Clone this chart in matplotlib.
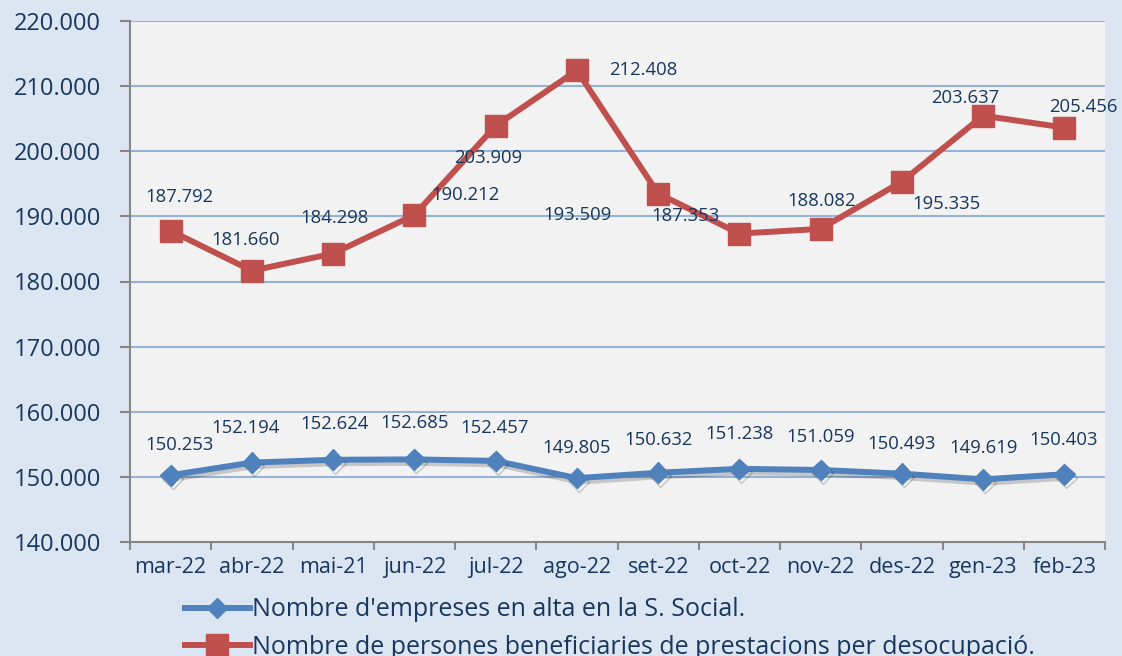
import matplotlib
matplotlib.use("Agg")
import matplotlib.pyplot as plt
import matplotlib.patheffects as pe
from matplotlib.lines import Line2D
import numpy as np

months = ["mar-22", "abr-22", "mai-21", "jun-22", "jul-22", "ago-22",
          "set-22", "oct-22", "nov-22", "des-22", "gen-23", "feb-23"]
empreses = [150.253, 152.194, 152.624, 152.685, 152.457, 149.805,
            150.632, 151.238, 151.059, 150.493, 149.619, 150.403]
persones = [187.792, 181.660, 184.298, 190.212, 203.909, 212.408,
            193.509, 187.353, 188.082, 195.335, 205.456, 203.637]
persones_labels = ["187.792", "181.660", "184.298", "190.212", "203.909", "212.408",
                   "193.509", "187.353", "188.082", "195.335", "203.637", "205.456"]
empreses_labels = ["150.253", "152.194", "152.624", "152.685", "152.457", "149.805",
                   "150.632", "151.238", "151.059", "150.493", "149.619", "150.403"]
yticks = [140, 150, 160, 170, 180, 190, 200, 210, 220]
ytick_labels = ["140.000", "150.000", "160.000", "170.000", "180.000",
                "190.000", "200.000", "210.000", "220.000"]
series_names = ["Nombre d'empreses en alta en la S. Social.",
                "Nombre de persones beneficiaries de prestacions per desocupació."]

FONT = "Open Sans"
TXT = "#17375e"
BLUE = "#4f81bd"
RED = "#c0504d"

fig = plt.figure(figsize=(11.22, 6.56), dpi=100, facecolor="#dce6f2")
ax = fig.add_axes([130/1122, 1-542/656, 975/1122, 521/656])
ax.set_facecolor("#f2f2f2")

x = np.arange(len(months))
ax.set_xlim(-0.5, len(months) - 0.5)
ax.set_ylim(140, 220)

for y in yticks[1:]:
    ax.axhline(y, color="#95b3d7", lw=1.5, zorder=1)

ax.plot(x, empreses, color=BLUE, lw=4.3, marker="D", ms=10.5, zorder=4,
        path_effects=[pe.SimpleLineShadow(offset=(1.5, -2.5), shadow_color="black", alpha=0.18),
                      pe.Normal()])
ax.plot(x, persones, color=RED, lw=4.3, marker="s", ms=16, zorder=5)

red_off = [(9, 34), (-6, 31), (1, 36), (51, 20), (-7, -32), (66, 0),
           (-81, -21), (-54, 18), (1, 28), (45, -22), (-18, 18), (19, 21)]
for i, (lab, off) in enumerate(zip(persones_labels, red_off)):
    ax.annotate(lab, (x[i], persones[i]), xytext=(off[0]*0.72, off[1]*0.72),
                textcoords="offset points", ha="center", va="center",
                fontsize=13.3, color=TXT, family=FONT, zorder=6)

blue_off = [(9, 30), (-6, 35), (1, 36), (0, 36), (-1, 33), (0, 30),
            (0, 33), (0, 35), (0, 33), (0, 30), (0, 31), (-1, 34)]
for i, (lab, off) in enumerate(zip(empreses_labels, blue_off)):
    ax.annotate(lab, (x[i], empreses[i]), xytext=(off[0]*0.72, off[1]*0.72),
                textcoords="offset points", ha="center", va="center",
                fontsize=13.3, color=TXT, family=FONT, zorder=6)

ax.set_yticks(yticks)
ax.set_yticklabels(ytick_labels, fontsize=17, color=TXT, family=FONT)
ax.tick_params(axis="y", length=7, width=1.5, color="#868686", pad=14)

ax.set_xticks(np.arange(-0.5, len(months)), minor=False)
ax.set_xticklabels([])
ax.set_xticks(x, minor=True)
ax.set_xticklabels(months, minor=True, fontsize=15.5, color=TXT, family=FONT)
ax.tick_params(axis="x", which="major", length=6, width=1.5, color="#868686")
ax.tick_params(axis="x", which="minor", length=0, pad=11)

for s in ["top", "right"]:
    ax.spines[s].set_visible(False)
for s in ["left", "bottom"]:
    ax.spines[s].set_color("#868686")
    ax.spines[s].set_linewidth(1.5)

handles = [Line2D([], [], color=BLUE, lw=4.3, marker="D", ms=10.5),
           Line2D([], [], color=RED, lw=4.3, marker="s", ms=16)]
leg = fig.legend(handles=handles, labels=series_names, loc="upper left",
                 bbox_to_anchor=(172/1122, 1-585/656), frameon=False,
                 handlelength=2.6, handletextpad=0.12, labelspacing=0.5,
                 borderpad=0, prop={"family": FONT, "size": 18})
for t in leg.get_texts():
    t.set_color(TXT)

fig.savefig("out.png", dpi=100, facecolor=fig.get_facecolor())
